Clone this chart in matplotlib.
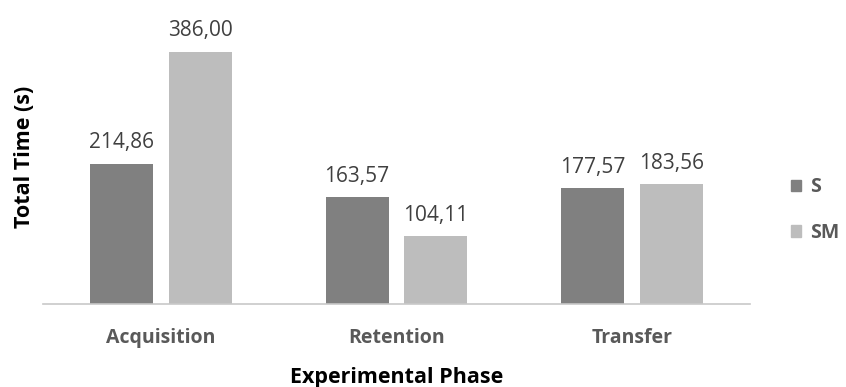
import numpy as np
import matplotlib.pyplot as plt
from matplotlib.patches import Patch

phases = ['Acquisition', 'Retention', 'Transfer']
s_times = [214.86, 163.57, 177.57]
sm_times = [386.00, 104.11, 183.56]

plt.rcParams['font.family'] = ['Open Sans', 'DejaVu Sans']

fig = plt.figure(figsize=(8.46, 3.87), dpi=100)
ax = fig.add_axes([43 / 846, 83 / 387, 707 / 846, 294 / 387])

x = np.arange(len(phases))
width = 63 / 235.7
gap = 16 / 235.7
s_bars = ax.bar(x - (width + gap) / 2, s_times, width, color='#808080')
sm_bars = ax.bar(x + (width + gap) / 2, sm_times, width, color='#bdbdbd')

for bars in (s_bars, sm_bars):
    for bar in bars:
        ax.annotate(f'{bar.get_height():.2f}'.replace('.', ','),
                    (bar.get_x() + bar.get_width() / 2, bar.get_height()),
                    xytext=(0, 7.5), textcoords='offset points',
                    ha='center', va='bottom', fontsize=15, color='#404040')

ax.set_xlim(-0.5, 2.5)
ax.set_ylim(0, 450)
ax.set_yticks([])
ax.set_xticks(x)
ax.set_xticklabels(phases, fontsize=14, fontweight='bold', color='#595959')
ax.tick_params(axis='x', length=0, pad=17)
for side in ('top', 'right', 'left'):
    ax.spines[side].set_visible(False)
ax.spines['bottom'].set_color('#c8c8c8')
ax.spines['bottom'].set_linewidth(1.2)

ax.set_ylabel('Total Time (s)', fontsize=15.5, fontweight='bold', labelpad=6)
ax.set_xlabel('Experimental Phase', fontsize=15.5, fontweight='bold', labelpad=14)

handles = [Patch(color='#808080', label='S'), Patch(color='#bdbdbd', label='SM')]
leg = fig.legend(handles=handles, loc='center left', bbox_to_anchor=(783 / 846, 1 - 210 / 387),
                 frameon=False, handlelength=0.55, handleheight=0.55, handletextpad=0.45,
                 labelspacing=1.3, borderaxespad=0,
                 prop={'size': 14, 'weight': 'bold'})
for text in leg.get_texts():
    text.set_color('#595959')

fig.savefig('out.png', dpi=100)
